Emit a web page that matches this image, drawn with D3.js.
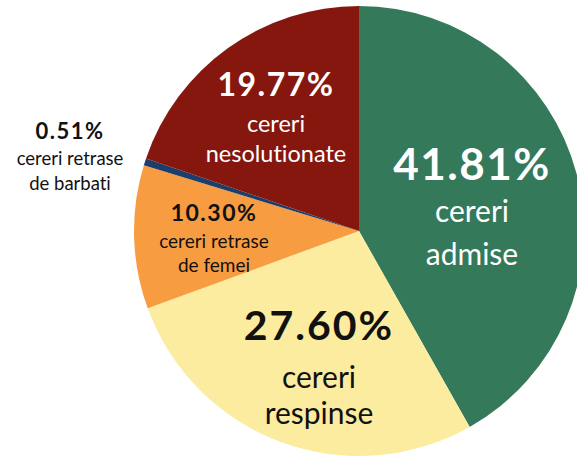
<!DOCTYPE html>
<html>
<head>
<meta charset="utf-8">
<script src="https://cdn.jsdelivr.net/npm/d3@7"></script>
<style>
  body { margin: 0; background: #fff; }
  svg { display: block; }
  text { font-family: Lato, "Open Sans", sans-serif; text-anchor: middle; font-variant-ligatures: none; }
</style>
</head>
<body>
<script>
// felii in ordinea de la ora 12, in sensul acelor de ceasornic
const categories = ['cereri admise', 'cereri respinse', 'cereri retrase de femei', 'cereri retrase de barbati', 'cereri nesolutionate'];
const values = [41.81, 27.60, 10.30, 0.51, 19.77];
const colors = ['#35795b', '#fcec9f', '#f89c41', '#1d3e6a', '#85170f'];
const pctLabels = ['41.81%', '27.60%', '10.30%', '0.51%', '19.77%'];
const lineLabels = [['cereri', 'admise'], ['cereri', 'respinse'], ['cereri retrase', 'de femei'], ['cereri retrase', 'de barbati'], ['cereri', 'nesolutionate']];

const width = 577, height = 461;
const cx = 359, cy = 231, r = 225;

const svg = d3.select('body').append('svg')
  .attr('width', width)
  .attr('height', height);

const pie = d3.pie().sort(null).value(d => d);
const arcs = pie(values);
const arc = d3.arc().innerRadius(0).outerRadius(r);

const g = svg.append('g').attr('transform', `translate(${cx},${cy})`);

g.selectAll('path')
  .data(arcs)
  .enter().append('path')
  .attr('d', arc)
  .attr('fill', (d, i) => colors[i]);

// pozitia si marimea etichetelor (luate din imagine)
const labelPos = [
  { x: 472, y: 180, big: 44, ls: 1.5, small: 30, gap: [42, 43], fill: '#fff' },
  { x: 319, y: 340, big: 41, ls: 2, small: 30, gap: [48, 36], fill: '#111' },
  { x: 214, y: 221, big: 23, ls: 1.5, small: 19, gap: [27, 24], fill: '#111' },
  { x: 70, y: 139, big: 22, ls: 1.5, small: 18.5, gap: [26, 25], fill: '#111' },
  { x: 276, y: 96, big: 32, ls: 1.5, small: 23.5, gap: [36, 30], fill: '#fff' }
];

labelPos.forEach((p, i) => {
  const t = svg.append('g').attr('fill', p.fill);
  t.append('text')
    .attr('x', p.x).attr('y', p.y)
    .attr('font-size', p.big)
    .attr('font-weight', 'bold')
    .attr('letter-spacing', p.ls)
    .text(pctLabels[i]);
  let y = p.y;
  lineLabels[i].forEach((line, j) => {
    y += p.gap[j];
    t.append('text')
      .attr('x', p.x).attr('y', y)
      .attr('font-size', p.small)
      .text(line);
  });
});
</script>
</body>
</html>
